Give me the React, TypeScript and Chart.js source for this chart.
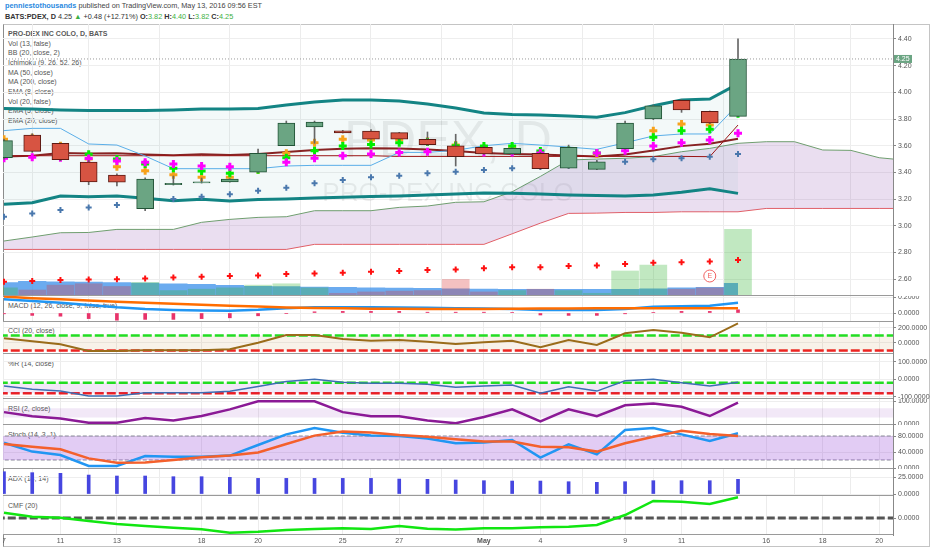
import { useEffect, useRef } from 'react';
import Chart from 'chart.js/auto';

// trading days shown (Apr 7 .. May 13) plus the empty future days on the axis
const dates = [
  'Apr 7', 'Apr 8', 'Apr 11', 'Apr 12', 'Apr 13', 'Apr 14', 'Apr 15', 'Apr 18', 'Apr 19',
  'Apr 20', 'Apr 21', 'Apr 22', 'Apr 25', 'Apr 26', 'Apr 27', 'Apr 28', 'Apr 29', 'May 2',
  'May 3', 'May 4', 'May 5', 'May 6', 'May 9', 'May 10', 'May 11', 'May 12', 'May 13',
  'May 16', 'May 17', 'May 18', 'May 19', 'May 20', 'May 23',
];
const xTickIdx = [0, 2, 4, 7, 9, 12, 14, 17, 19, 22, 24, 27, 29, 31];
const xTickText = ['7', '11', '13', '18', '20', '25', '27', 'May', '4', '9', '11', '16', '18', '20'];
const X_MIN = -0.035;
const X_MAX = 31.49;

const openP = [3.51, 3.68, 3.618, 3.478, 3.38, 3.128, 3.308, 3.322, 3.328, 3.401, 3.6, 3.74, 3.712, 3.71,
  3.698, 3.648, 3.6, 3.588, 3.538, 3.543, 3.431, 3.423, 3.578, 3.8, 3.94, 3.858, 3.82];
const highP = [3.65, 3.69, 3.62, 3.49, 3.39, 3.36, 3.373, 3.358, 3.352, 3.575, 3.785, 3.785, 3.715, 3.72,
  3.7, 3.703, 3.686, 3.6, 3.585, 3.55, 3.605, 3.49, 3.785, 3.905, 3.945, 3.86, 4.4];
const lowP = [3.5, 3.55, 3.488, 3.308, 3.298, 3.113, 3.305, 3.32, 3.326, 3.4, 3.6, 3.618, 3.695, 3.65,
  3.65, 3.6, 3.448, 3.535, 3.535, 3.425, 3.43, 3.42, 3.575, 3.795, 3.85, 3.765, 3.82];
const closeP = [3.638, 3.558, 3.495, 3.328, 3.326, 3.35, 3.318, 3.33, 3.35, 3.543, 3.77, 3.778, 3.695, 3.65,
  3.65, 3.608, 3.518, 3.538, 3.58, 3.428, 3.588, 3.48, 3.77, 3.898, 3.868, 3.77, 4.25];

const bbUpper = [3.879, 3.875, 3.868, 3.864, 3.863, 3.864, 3.868, 3.875, 3.875, 3.879, 3.905, 3.928, 3.943,
  3.943, 3.935, 3.913, 3.883, 3.845, 3.833, 3.83, 3.823, 3.813, 3.848, 3.9, 3.943, 3.95, 4.063];
const bbBasis = [3.52, 3.524, 3.545, 3.541, 3.543, 3.535, 3.528, 3.536, 3.53, 3.538, 3.553, 3.568, 3.578,
  3.581, 3.579, 3.572, 3.56, 3.545, 3.538, 3.534, 3.527, 3.52, 3.535, 3.565, 3.597, 3.614, 3.653];
const bbLower = [3.161, 3.173, 3.223, 3.218, 3.223, 3.206, 3.188, 3.198, 3.186, 3.197, 3.201, 3.208, 3.213,
  3.219, 3.223, 3.231, 3.238, 3.246, 3.243, 3.238, 3.231, 3.227, 3.223, 3.231, 3.251, 3.278, 3.243];

const tenkan = [3.713, 3.73, 3.73, 3.613, 3.605, 3.523, 3.428, 3.428, 3.428, 3.428, 3.448, 3.453, 3.453,
  3.453, 3.55, 3.55, 3.565, 3.6, 3.618, 3.605, 3.59, 3.573, 3.622, 3.673, 3.688, 3.688, 3.91];
const kijun = [3.525, 3.525, 3.525, 3.525, 3.525, 3.525, 3.525, 3.525, 3.525, 3.525, 3.525, 3.525, 3.525,
  3.525, 3.52, 3.52, 3.52, 3.52, 3.52, 3.52, 3.52, 3.52, 3.52, 3.52, 3.52, 3.518, 3.755];
const senkouA = [2.886, 2.916, 2.948, 2.95, 2.973, 2.973, 2.973, 3.026, 3.048, 3.063, 3.068, 3.113, 3.113,
  3.113, 3.138, 3.148, 3.176, 3.18, 3.255, 3.37, 3.493, 3.5, 3.506, 3.518, 3.555, 3.58, 3.618,
  3.63, 3.63, 3.568, 3.565, 3.51, 3.49];
const senkouB = [2.823, 2.823, 2.823, 2.823, 2.823, 2.823, 2.823, 2.823, 2.823, 2.823, 2.823, 2.861, 2.861,
  2.861, 2.861, 2.861, 2.861, 2.861, 2.94, 3.02, 3.093, 3.095, 3.1, 3.1, 3.105, 3.105, 3.105,
  3.13, 3.13, 3.13, 3.13, 3.13, 3.13];

const ema5 = [3.648, 3.66, 3.6, 3.5, 3.443, 3.413, 3.383, 3.363, 3.363, 3.42, 3.543, 3.623, 3.648, 3.643,
  3.645, 3.633, 3.605, 3.58, 3.58, 3.53, 3.55, 3.538, 3.61, 3.713, 3.763, 3.755, 3.92];
const ema8 = [3.6, 3.59, 3.57, 3.536, 3.5, 3.463, 3.431, 3.41, 3.393, 3.42, 3.51, 3.563, 3.598, 3.61,
  3.623, 3.628, 3.6, 3.598, 3.598, 3.56, 3.565, 3.545, 3.61, 3.663, 3.713, 3.723, 3.84];
const ema20 = [3.506, 3.513, 3.51, 3.505, 3.485, 3.476, 3.463, 3.448, 3.443, 3.45, 3.476, 3.506, 3.525,
  3.538, 3.55, 3.555, 3.55, 3.55, 3.55, 3.545, 3.55, 3.545, 3.563, 3.598, 3.623, 3.643, 3.693];
const ma50 = [3.068, 3.093, 3.118, 3.138, 3.156, 3.175, 3.2, 3.218, 3.236, 3.263, 3.285, 3.318, 3.343,
  3.363, 3.375, 3.393, 3.405, 3.418, 3.431, 3.44, 3.45, 3.46, 3.48, 3.498, 3.506, 3.518, 3.538];
const ma200 = [2.581, 2.586, 2.593, 2.598, 2.6, 2.606, 2.613, 2.618, 2.623, 2.628, 2.638, 2.643, 2.648,
  2.656, 2.661, 2.668, 2.673, 2.681, 2.689, 2.689, 2.698, 2.703, 2.713, 2.723, 2.726, 2.733, 2.743];

// volume in thousands of shares
const volume = [30, 22, 40, 45, 35, 50, 20, 25, 30, 40, 45, 30, 10, 15, 18, 20, 61, 15, 20, 25, 20, 10,
  92, 114, 25, 30, 245];
const volumeAvg = [51, 55, 53, 52, 51, 49, 46, 44, 40, 37, 36, 34, 33, 31, 30, 29, 28, 27, 26, 26, 26, 26,
  26, 28, 31, 33, 48];

const macdLine = [0.171, 0.15, 0.129, 0.1, 0.071, 0.05, 0.0375, 0.032, 0.029, 0.04, 0.059, 0.071, 0.071,
  0.071, 0.069, 0.065, 0.059, 0.055, 0.05, 0.0375, 0.0375, 0.0375, 0.05, 0.079, 0.085, 0.091, 0.129];
const macdSignal = [0.205, 0.185, 0.171, 0.155, 0.141, 0.127, 0.115, 0.103, 0.091, 0.08, 0.07, 0.063,
  0.058, 0.054, 0.052, 0.05, 0.05, 0.05, 0.052, 0.055, 0.057, 0.059, 0.059, 0.059, 0.059, 0.059, 0.059];
const macdHist = [-0.01, -0.03, -0.04, -0.07, -0.09, -0.08, -0.08, -0.07, -0.06, -0.035, -0.005, 0.015,
  0.02, 0.02, 0.02, 0.01, 0.01, 0.01, 0.005, -0.025, -0.03, -0.03, -0.01, 0.005, 0.02, 0.02, 0.04];

const cciValues = [62, 22, -17, -107, -107, -97, -97, -97, -84, 4, 107, 107, 53, 31, 40, 18, -13, 9, 31,
  -57, 40, -27, 129, 173, 137, 76, 262];
const cciLevels = [100, -100];

const willR = [-38, -58, -67, -96, -96, -77, -77, -77, -69, -42, -13, 0, -17, -23, -23, -29, -46, -39, -33,
  -81, -43, -68, -8, 0, -20, -39, -17];
const willRLevels = [-20, -80];

const rsiValues = [53, 35, 25, 7, 7, 27, 17, 36, 65, 100, 100, 100, 53, 35, 35, 17, 5, 32, 65, 13, 65, 35,
  83, 90, 76, 36, 94];
const rsiBand = [70, 30];

const stochK = [63, 41, 32.5, 5, 5, 30, 28, 28, 31, 57.5, 84, 100, 88, 81, 80, 74, 62, 64, 70, 26, 59, 34,
  95, 100, 84, 67.5, 87];
const stochD = [60, 53, 47, 24, 13, 14, 20, 27, 31, 39, 60, 81, 91, 89, 82.5, 78, 72, 66, 66, 53, 52, 41,
  62, 78, 93, 85, 80];
const stochLevels = [80, 20];

const adxValues = [32.8, 31.4, 30.4, 27.9, 26.5, 26.5, 25.5, 25.5, 24.5, 23, 23, 23, 23, 23, 22, 21.6, 20.6,
  19.6, 19.1, 19.1, 18.1, 17.2, 18.1, 19.6, 19.6, 19.6, 21.6];

const cmfValues = [0.0265, 0.0065, 0.0015, -0.015, -0.03, -0.04, -0.0485, -0.0565, -0.0735, -0.0685, -0.06,
  -0.055, -0.0515, -0.055, -0.04, -0.0535, -0.058, -0.0515, -0.0515, -0.0465, -0.0435, -0.035, 0.015,
  0.085, 0.0815, 0.07, 0.1035];
const cmfLevel = 0;

const priceTicks = [2.6, 2.8, 3.0, 3.2, 3.4, 3.6, 3.8, 4.0, 4.2, 4.4];

const FONT = "'Liberation Sans', Arial, sans-serif";
const UP = '#6ba583';
const DOWN = '#d75442';

Chart.defaults.font.family = FONT;

const pts = (arr: number[]) => arr.map((v, i) => ({ x: i, y: v }));
const level = (v: number) => [{ x: X_MIN - 1, y: v }, { x: X_MAX + 1, y: v }];
const isUp = closeP.map((c, i) => c >= openP[i]);

const markers = (arr: number[], color: string, r: number, w: number, order: number) => ({
  type: 'line', data: pts(arr), showLine: false, pointStyle: 'cross', pointRadius: r,
  pointBorderColor: color, pointBorderWidth: w, order,
});
const plainLine = (data: any[], color: string, width: number, order: number, extra: any = {}) => ({
  type: 'line', data, borderColor: color, borderWidth: width, pointRadius: 0, fill: false, order, ...extra,
});

const mainDecor = {
  id: 'mainDecor',
  beforeDatasetsDraw(chart: any) {
    const { ctx, chartArea } = chart;
    const cx = (chartArea.left + chartArea.right) / 2;
    ctx.save();
    ctx.fillStyle = 'rgba(0,0,0,0.07)';
    ctx.textAlign = 'center';
    ctx.font = `52px ${FONT}`;
    ctx.fillText('PDEX, D', cx, 133);
    ctx.font = `26px ${FONT}`;
    ctx.fillText('PRO-DEX INC COLO', cx, 177);
    ctx.restore();
  },
  afterDatasetsDraw(chart: any) {
    const { ctx, chartArea, scales } = chart;
    const last = closeP[closeP.length - 1];
    const y = scales.y.getPixelForValue(last);
    ctx.save();
    ctx.strokeStyle = '#9a9a9a';
    ctx.setLineDash([1, 2]);
    ctx.lineWidth = 1;
    ctx.beginPath();
    ctx.moveTo(chartArea.left, y);
    ctx.lineTo(chartArea.right, y);
    ctx.stroke();
    ctx.setLineDash([]);
    // earnings marker
    const ex = scales.x.getPixelForValue(25);
    const ey = chartArea.bottom - 20;
    ctx.fillStyle = '#fff';
    ctx.strokeStyle = '#f06060';
    ctx.beginPath();
    ctx.arc(ex, ey, 6, 0, Math.PI * 2);
    ctx.fill();
    ctx.stroke();
    ctx.fillStyle = '#f06060';
    ctx.font = `7px ${FONT}`;
    ctx.textAlign = 'center';
    ctx.textBaseline = 'middle';
    ctx.fillText('E', ex, ey + 0.5);
    ctx.restore();
  },
  afterDraw(chart: any) {
    const { ctx, chartArea, scales } = chart;
    const last = closeP[closeP.length - 1];
    const y = scales.y.getPixelForValue(last);
    ctx.save();
    ctx.fillStyle = UP;
    ctx.fillRect(chartArea.right + 1, y - 4, 18, 8);
    ctx.fillStyle = '#fff';
    ctx.font = `7px ${FONT}`;
    ctx.textBaseline = 'middle';
    ctx.fillText(last.toFixed(2), chartArea.right + 3, y + 0.5);
    ctx.restore();
  },
};

type PaneProps = {
  top: number;
  height: number;
  yMin: number;
  yMax: number;
  ticks: number[];
  decimals: number;
  datasets: any[];
  showX?: boolean;
  extraScales?: any;
  plugins?: any[];
};

function Pane({ top, height, yMin, yMax, ticks, decimals, datasets, showX, extraScales, plugins }: PaneProps) {
  const ref = useRef<HTMLCanvasElement>(null);
  const labelH = showX ? 15 : 0;

  useEffect(() => {
    if (!ref.current) return;
    const chart = new Chart(ref.current, {
      type: 'line',
      data: { datasets },
      options: {
        responsive: false,
        animation: false,
        events: [],
        layout: { padding: 0, autoPadding: false },
        plugins: { legend: { display: false }, tooltip: { enabled: false } },
        scales: {
          x: {
            type: 'linear',
            min: X_MIN,
            max: X_MAX,
            offset: false,
            afterBuildTicks: (s: any) => { s.ticks = xTickIdx.map((v) => ({ value: v })); },
            afterFit: (s: any) => { s.height = labelH; s.paddingLeft = 0; s.paddingRight = 0; },
            ticks: {
              display: !!showX,
              autoSkip: false,
              maxRotation: 0,
              padding: 2,
              color: '#555',
              font: (c: any) => ({ size: 7, weight: c.tick && c.tick.value === 17 ? 'bold' : 'normal' }),
              callback: (v: any) => xTickText[xTickIdx.indexOf(Number(v))] ?? '',
            },
            grid: { color: '#ececec', drawTicks: false },
            border: { display: false },
          },
          y: {
            position: 'right',
            min: yMin,
            max: yMax,
            afterBuildTicks: (s: any) => { s.ticks = ticks.map((v) => ({ value: v })); },
            afterFit: (s: any) => { s.width = 39; s.paddingTop = 0; s.paddingBottom = 0; },
            ticks: {
              padding: 2,
              color: '#555',
              font: { size: 7 },
              callback: (v: any) => Number(v).toFixed(decimals),
            },
            grid: { color: '#eeeeee', tickLength: 3, tickColor: '#888' },
            border: { color: '#888' },
          },
          ...(extraScales || {}),
        },
      } as any,
      plugins: plugins || [],
    });
    return () => chart.destroy();
  }, []);

  return (
    <canvas
      ref={ref}
      width={929}
      height={height + labelH}
      style={{ position: 'absolute', left: 3, top, width: 929, height: height + labelH }}
    />
  );
}

const textStyle = (top: number, extra: any = {}) => ({
  position: 'absolute' as const,
  left: 8,
  top: top - 5,
  height: 10,
  lineHeight: '10px',
  fontSize: 7,
  color: '#555',
  whiteSpace: 'nowrap' as const,
  ...extra,
});

const legendItems = ['Vol (13, false)', 'BB (20, close, 2)', 'Ichimoku (9, 26, 52, 26)', 'MA (50, close)',
  'MA (200, close)', 'EMA (8, close)', 'Vol (20, false)', 'EMA (5, close)', 'EMA (20, close)'];

const paneTitles: [string, number][] = [
  ['MACD (12, 26, close, 9, false, true)', 305.5],
  ['CCI (20, close)', 331],
  ['%R (14, close)', 364],
  ['RSI (2, close)', 409],
  ['Stoch (14, 3, 1)', 435],
  ['ADX (14, 14)', 479],
  ['CMF (20)', 506],
];

const separators = [296, 322, 354, 399, 425, 469, 496, 535];

export default function App() {
  const mainSets = [
    // candle bodies and wicks
    {
      type: 'bar', data: openP.map((o, i) => ({ x: i, y: [o, closeP[i]] })), barThickness: 17, grouped: false,
      backgroundColor: isUp.map((u) => (u ? UP : DOWN)), borderColor: isUp.map((u) => (u ? '#225437' : '#5b1a13')),
      borderWidth: 1, borderSkipped: false, order: 0,
    },
    {
      type: 'bar', data: lowP.map((l, i) => ({ x: i, y: [l, highP[i]] })), barThickness: 1, grouped: false,
      backgroundColor: '#666', borderWidth: 0, order: 1,
    },
    markers(ema20, '#ff00ff', 4, 3, 2),
    markers(ema8, '#00ee00', 4, 3, 2),
    markers(ema5, '#f7a21b', 4, 3, 2),
    markers(ma50, '#4a78ad', 3, 2, 2),
    markers(ma200, '#ff1010', 3, 2, 2),
    plainLine(pts(tenkan), '#5aaee8', 1, 3),
    plainLine(pts(kijun), '#991515', 1, 3),
    plainLine(pts(bbBasis), '#872323', 2, 4),
    plainLine(pts(bbUpper), '#138484', 3, 5, { fill: '+1', backgroundColor: 'rgba(25,135,135,0.05)' }),
    plainLine(pts(bbLower), '#138484', 3, 5),
    plainLine(pts(senkouA), '#6f9e6f', 1, 6, { fill: '+1', backgroundColor: 'rgba(150,90,180,0.2)' }),
    plainLine(pts(senkouB), '#e86060', 1, 6),
    {
      type: 'bar', yAxisID: 'vol', data: pts(volume), barThickness: 27, grouped: false,
      backgroundColor: isUp.map((u) => (u ? 'rgba(50,180,50,0.3)' : 'rgba(220,50,50,0.3)')), order: 7,
    },
    plainLine(pts(volumeAvg), 'rgba(0,0,0,0)', 0, 8, {
      yAxisID: 'vol', stepped: 'middle', fill: 'start', backgroundColor: 'rgba(70,150,235,0.8)',
    }),
  ];

  const macdSets = [
    plainLine(pts(macdSignal), '#ff6d00', 2.5, 0),
    plainLine(pts(macdLine), '#2196f3', 2.5, 1),
    { type: 'bar', data: pts(macdHist), barThickness: 3, backgroundColor: '#e8336a', grouped: false, order: 2 },
  ];

  const cciSets = [
    plainLine(pts(cciValues), '#9a6c1a', 2, 0),
    plainLine(level(cciLevels[0]), '#22dd22', 2.5, 1, { borderDash: [9, 3], fill: '+1', backgroundColor: 'rgba(205,170,110,0.15)' }),
    plainLine(level(cciLevels[1]), '#ee1c1c', 2.5, 1, { borderDash: [9, 3] }),
  ];

  const willSets = [
    plainLine(pts(willR), '#3d6eb3', 1.5, 0),
    plainLine(level(willRLevels[0]), '#22dd22', 2.5, 1, { borderDash: [9, 3], fill: '+1', backgroundColor: 'rgba(170,100,200,0.15)' }),
    plainLine(level(willRLevels[1]), '#ee1c1c', 2.5, 1, { borderDash: [9, 3] }),
  ];

  const rsiSets = [
    plainLine(pts(rsiValues), '#8b1a96', 2.5, 0),
    plainLine(level(rsiBand[0]), 'rgba(0,0,0,0)', 0, 1, { fill: '+1', backgroundColor: 'rgba(170,100,200,0.15)' }),
    plainLine(level(rsiBand[1]), 'rgba(0,0,0,0)', 0, 1),
  ];

  const stochSets = [
    plainLine(pts(stochD), '#f4602c', 2.5, 0),
    plainLine(pts(stochK), '#2196f3', 2.5, 1),
    plainLine(level(stochLevels[0]), '#8a8a99', 1.2, 2, { borderDash: [4, 2], fill: '+1', backgroundColor: 'rgba(140,50,210,0.25)' }),
    plainLine(level(stochLevels[1]), '#8a8a99', 1.2, 2, { borderDash: [4, 2] }),
  ];

  const adxSets = [
    { type: 'bar', data: pts(adxValues), barThickness: 3, backgroundColor: '#4646e0', grouped: false, order: 0 },
  ];

  const cmfSets = [
    plainLine(pts(cmfValues), '#11e611', 2.5, 0),
    plainLine(level(cmfLevel), '#555', 3, 1, { borderDash: [8, 3] }),
  ];

  return (
    <div style={{ position: 'absolute', left: 0, top: 0, width: 932, height: 550, background: '#fff', overflow: 'hidden', fontFamily: FONT }}>
      <div style={{ ...textStyle(6, { left: 5, fontSize: 7.3, color: '#444' }) }}>
        <span style={{ color: '#2a8ae0', fontWeight: 'bold' }}>penniestothousands</span> published on TradingView.com, May 13, 2016 09:56 EST
      </div>
      <div style={{ ...textStyle(16.5, { left: 5, fontSize: 7.3, color: '#333' }) }}>
        <b>BATS:PDEX, D</b> 4.25 <span style={{ color: '#3cb043' }}>▲</span> +0.48 (+12.71%) <b>O:</b>
        <span style={{ color: '#3cb043' }}>3.82</span> <b>H:</b><span style={{ color: '#3cb043' }}>4.40</span>{' '}
        <b>L:</b><span style={{ color: '#3cb043' }}>3.82</span> <b>C:</b><span style={{ color: '#3cb043' }}>4.25</span>
      </div>

      <div style={{ position: 'absolute', left: 3, top: 24, width: 927, height: 523, border: '1px solid #c4c4c4', borderLeft: '1px solid #8c8c8c', boxSizing: 'border-box' }} />

      <div style={textStyle(34, { fontWeight: 'bold', color: '#5a5a5a' })}>PRO-DEX INC COLO, D, BATS</div>
      {legendItems.map((t, i) => (
        <div key={t + i} style={textStyle(43.7 + i * 9.67)}>{t}</div>
      ))}
      {paneTitles.map(([t, y]) => (
        <div key={t} style={textStyle(y)}>{t}</div>
      ))}

      <Pane top={24} height={272} yMin={2.474} yMax={4.512} ticks={priceTicks} decimals={2} datasets={mainSets}
        plugins={[mainDecor]}
        extraScales={{ vol: { display: false, min: 0, max: 1000 } }} />
      <Pane top={296} height={26} yMin={-0.1125} yMax={0.2125} ticks={[0, 0.2]} decimals={4} datasets={macdSets} />
      <Pane top={322} height={32} yMin={-146.7} yMax={280} ticks={[0, 200]} decimals={4} datasets={cciSets} />
      <Pane top={354} height={45} yMin={-113.7} yMax={146} ticks={[-100, 0, 100]} decimals={4} datasets={willSets} />
      <Pane top={399} height={26} yMin={-3} yMax={110} ticks={[0, 100]} decimals={4} datasets={rsiSets} />
      <Pane top={425} height={44} yMin={-2.5} yMax={107.5} ticks={[0, 40, 80]} decimals={4} datasets={stochSets} />
      <Pane top={469} height={27} yMin={-2.9} yMax={36.8} ticks={[0, 25]} decimals={4} datasets={adxSets} />
      <Pane top={496} height={39} yMin={-0.085} yMax={0.11} ticks={[0]} decimals={4} datasets={cmfSets} showX />

      {separators.map((y) => (
        <div key={y} style={{ position: 'absolute', left: 3, top: y - 1, width: 890, height: 0, borderTop: '1.5px solid #9a9a9a' }} />
      ))}
    </div>
  );
}
